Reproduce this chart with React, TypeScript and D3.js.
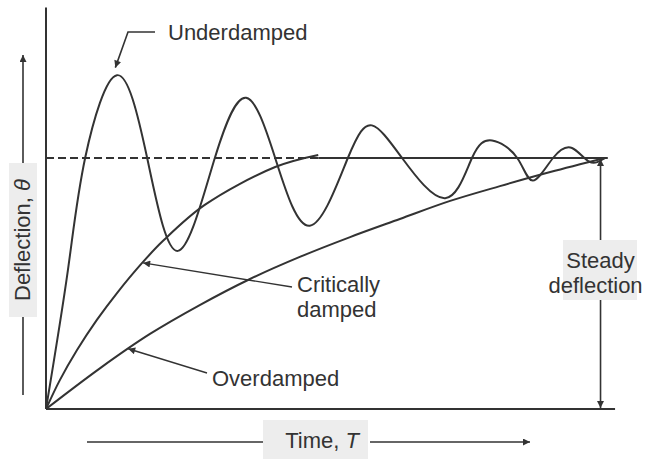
import { useEffect, useRef } from 'react';
import * as d3 from 'd3';

// response curves, time (0..10) vs deflection (steady value = 1)
const underTime = [0, 0.39, 0.7, 1.27, 1.81, 2.36, 3.02, 3.58, 4.1, 4.72, 5.4, 5.83, 6.37, 7.14, 7.62, 7.98, 8.43, 8.71, 9.07, 9.41, 9.72, 10];
const underValue = [0, 0.55, 1, 1.33, 1, 0.63, 1, 1.24, 1, 0.73, 1, 1.13, 1, 0.84, 1, 1.07, 1, 0.91, 1, 1.04, 0.985, 1];

const criticalTime = [0, 0.25, 0.555, 0.91, 1.27, 1.72, 2.09, 2.84, 4.1, 4.87];
const criticalValue = [0, 0.116, 0.235, 0.355, 0.462, 0.582, 0.669, 0.813, 0.964, 1.012];

const overTime = [0, 0.97, 1.86, 2.75, 3.65, 4.54, 5.44, 6.33, 7.23, 8.12, 9.02, 10];
const overValue = [0, 0.163, 0.299, 0.414, 0.518, 0.606, 0.685, 0.757, 0.829, 0.888, 0.944, 1.0];

const steadyValue = 1;
const labels = ['Underdamped', 'Critically', 'damped', 'Overdamped', 'Steady', 'deflection'];

export default function App() {
  const ref = useRef<SVGSVGElement>(null);

  useEffect(() => {
    const svg = d3.select(ref.current);
    svg.selectAll('*').remove();

    const ink = '#333';
    const font = 'Liberation Sans, Arial, Helvetica, sans-serif';
    const fs = 22;

    const x = d3.scaleLinear().domain([0, 10]).range([46, 605]);
    const y = d3.scaleLinear().domain([0, 1]).range([409, 158]);

    svg.append('defs').append('marker')
      .attr('id', 'arr')
      .attr('viewBox', '0 0 10 10')
      .attr('refX', 10).attr('refY', 5)
      .attr('markerWidth', 10).attr('markerHeight', 7)
      .attr('markerUnits', 'userSpaceOnUse')
      .attr('orient', 'auto')
      .append('path').attr('d', 'M0,0L10,5L0,10z').attr('fill', ink);

    const line = (x1: number, y1: number, x2: number, y2: number, w = 1.6, arrow = false) => {
      const l = svg.append('line')
        .attr('x1', x1).attr('y1', y1).attr('x2', x2).attr('y2', y2)
        .attr('stroke', ink).attr('stroke-width', w);
      if (arrow) l.attr('marker-end', 'url(#arr)');
      return l;
    };

    const text = (t: string, tx: number, ty: number, anchor = 'start') =>
      svg.append('text').attr('x', tx).attr('y', ty)
        .attr('font-family', font).attr('font-size', fs)
        .attr('fill', ink).attr('text-anchor', anchor).text(t);

    // axes
    line(x(0), y(0), x(0), y(1.6), 2);
    line(x(0), y(0), x(10.18), y(0), 2);

    // steady deflection reference
    line(x(0), y(steadyValue), x(4.87), y(steadyValue), 1.8).attr('stroke-dasharray', '8,4');
    line(x(4.87), y(steadyValue), x(10.05), y(steadyValue), 1.8);

    // curves
    const curve = (ts: number[], vs: number[], factory: d3.CurveFactory) => {
      const pts = ts.map((t, i) => [t, vs[i]] as [number, number]);
      const gen = d3.line<[number, number]>()
        .x(d => x(d[0])).y(d => y(d[1]))
        .curve(factory);
      svg.append('path').attr('d', gen(pts)).attr('fill', 'none')
        .attr('stroke', ink).attr('stroke-width', 2);
    };
    curve(underTime, underValue, d3.curveNatural);
    curve(criticalTime, criticalValue, d3.curveCatmullRom.alpha(0.5));
    curve(overTime, overValue, d3.curveCatmullRom.alpha(0.5));

    // Underdamped label
    svg.append('polyline')
      .attr('points', `155,32 128,32 ${x(1.24)},${y(1.36)}`)
      .attr('fill', 'none').attr('stroke', ink).attr('stroke-width', 1.6)
      .attr('marker-end', 'url(#arr)');
    text(labels[0], 168, 40);

    // Critically damped label
    line(292, 287, x(1.72) + 1, y(0.582), 1.4, true);
    text(labels[1], 297, 292);
    text(labels[2], 297, 317);

    // Overdamped label
    line(207, 373, x(1.47), y(0.24), 1.4, true);
    text(labels[3], 212, 386);

    // Steady deflection
    const sx = x(9.92);
    svg.append('rect').attr('x', 563).attr('y', 240).attr('width', 74).attr('height', 60).attr('fill', '#ededed');
    text(labels[4], sx, 268, 'middle');
    text(labels[5], sx - 5, 293, 'middle');
    line(sx, 240, sx, y(steadyValue) + 1, 1.6, true);
    line(sx, 300, sx, y(0) - 1, 1.6, true);

    // y-axis title
    svg.append('rect').attr('x', 9).attr('y', 163).attr('width', 28).attr('height', 154).attr('fill', '#ededed');
    const yt = svg.append('text')
      .attr('transform', 'translate(30,240) rotate(-90)')
      .attr('font-family', font).attr('font-size', fs).attr('fill', ink)
      .attr('text-anchor', 'middle');
    yt.append('tspan').text('Deflection, ');
    yt.append('tspan').attr('font-style', 'italic').text('θ');
    line(23, 163, 23, 55, 1.6, true);
    line(23, 317, 23, 395, 1.6);

    // x-axis title
    svg.append('rect').attr('x', 263).attr('y', 420).attr('width', 105).attr('height', 39).attr('fill', '#ededed');
    const xt = svg.append('text')
      .attr('x', 322).attr('y', 448)
      .attr('font-family', font).attr('font-size', fs).attr('fill', ink)
      .attr('text-anchor', 'middle');
    xt.append('tspan').text('Time, ');
    xt.append('tspan').attr('font-style', 'italic').text('T');
    line(87, 442, 263, 442, 1.6);
    line(370, 442, 530, 442, 1.6, true);
  }, []);

  return (
    <svg ref={ref} width={646} height={459}
      style={{ position: 'absolute', left: 0, top: 0, background: '#fff' }} />
  );
}
